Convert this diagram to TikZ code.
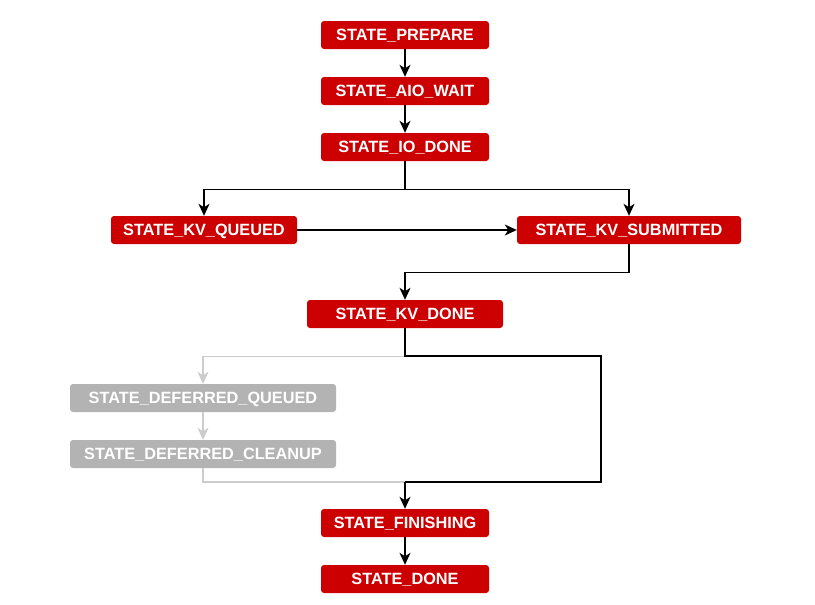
\documentclass[tikz,border=0pt]{standalone}
\usepackage{fontspec}
\setmainfont{Liberation Sans}
\usetikzlibrary{arrows.meta}
\definecolor{stred}{HTML}{CC0000}
\definecolor{stgray}{HTML}{B3B3B3}
\definecolor{lngray}{HTML}{CCCCCC}
\tikzset{
  st/.style={draw=none, fill=stred, rounded corners=3pt, text=white, font=\fontsize{16.3}{19}\selectfont\bfseries, minimum height=28pt, inner sep=0pt, text height=11.7pt, text depth=0pt, align=center},
  stg/.style={st, fill=stgray},
  tip/.style={-{Stealth[length=12pt,width=11pt,inset=3.5pt]}},
  arr/.style={draw=black, line width=1.2pt, tip},
  garr/.style={draw=lngray, line width=1.2pt, tip},
  gline/.style={draw=lngray, line width=1.2pt},
  bline/.style={draw=black, line width=1.2pt}
}
\begin{document}
\begin{tikzpicture}[x=1pt,y=-1pt]
\useasboundingbox (0,0) rectangle (815,605);
\node[st, minimum width=168pt] (prep) at (405,35) {STATE\_PREPARE};
\node[st, minimum width=168pt] (aio) at (405,91) {STATE\_AIO\_WAIT};
\node[st, minimum width=168pt] (io) at (405,147) {STATE\_IO\_DONE};
\node[st, minimum width=186pt] (kvq) at (204,230) {STATE\_KV\_QUEUED};
\node[st, minimum width=224pt] (kvs) at (629,230) {STATE\_KV\_SUBMITTED};
\node[st, minimum width=196pt] (kvd) at (405,314) {STATE\_KV\_DONE};
\node[stg, minimum width=266pt] (dq) at (203,398) {STATE\_DEFERRED\_QUEUED};
\node[stg, minimum width=266pt] (dc) at (203,454) {STATE\_DEFERRED\_CLEANUP};
\node[st, minimum width=168pt] (fin) at (405,523) {STATE\_FINISHING};
\node[st, minimum width=168pt] (done) at (405,579) {STATE\_DONE};
\coordinate (r1) at (601,356);
\coordinate (r2) at (601,482);
\draw[arr] (prep) -- (aio);
\draw[arr] (aio) -- (io);
\draw[arr] (io.south) -- ++(0,28) -| (kvq.north);
\draw[arr] (io.south) -- ++(0,28) -| (kvs.north);
\draw[arr] (kvq) -- (kvs);
\draw[arr] (kvs.south) -- ++(0,28) -| (kvd.north);
\draw[garr] (kvd.south) -- ++(0,28) -| (dq.north);
\draw[garr] (dq) -- (dc);
\draw[gline] (dc.south) |- (fin.north |- r2);
\draw[bline] (kvd.south) |- (r1) -- (r2) -- (fin.north |- r2);
\draw[arr] (fin.north |- r2) -- (fin.north);
\draw[arr] (fin) -- (done);
\end{tikzpicture}
\end{document}
